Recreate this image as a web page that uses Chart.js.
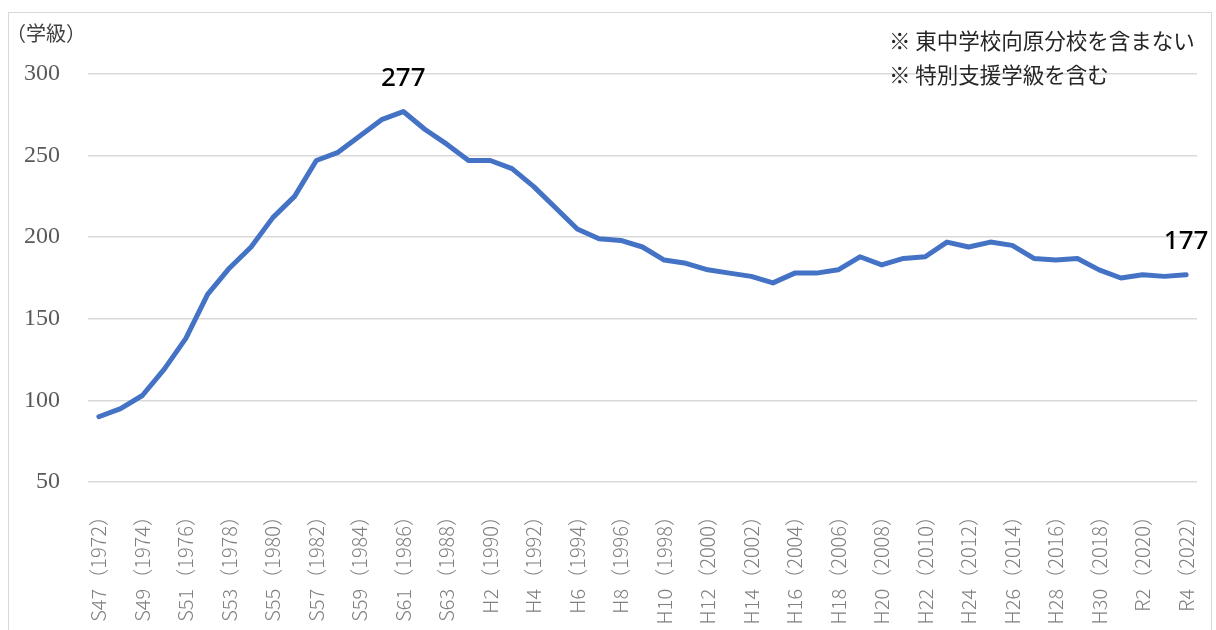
<!DOCTYPE html>
<html>
<head>
<meta charset="utf-8">
<script src="https://cdn.jsdelivr.net/npm/chart.js@4.4.1/dist/chart.umd.min.js"></script>
<style>
  html, body { margin: 0; padding: 0; background: #fff; }
  .wrap { position: relative; width: 1216px; height: 630px; overflow: hidden; }
  .frame { position: absolute; left: 8px; top: 12px; width: 1204px; height: 640px; border: 1px solid #d9d9d9; box-sizing: border-box; }
  canvas { position: absolute; left: 0; top: 0; }
</style>
</head>
<body>
<div class="wrap">
  <div class="frame"></div>
  <canvas id="chart" width="1216" height="630"></canvas>
</div>
<script>
// years and era labels
const years = [1972, 1973, 1974, 1975, 1976, 1977, 1978, 1979, 1980, 1981,
  1982, 1983, 1984, 1985, 1986, 1987, 1988, 1989, 1990, 1991,
  1992, 1993, 1994, 1995, 1996, 1997, 1998, 1999, 2000, 2001,
  2002, 2003, 2004, 2005, 2006, 2007, 2008, 2009, 2010, 2011,
  2012, 2013, 2014, 2015, 2016, 2017, 2018, 2019, 2020, 2021, 2022];
const eras = ['S47', 'S48', 'S49', 'S50', 'S51', 'S52', 'S53', 'S54', 'S55', 'S56',
  'S57', 'S58', 'S59', 'S60', 'S61', 'S62', 'S63', 'H1', 'H2', 'H3',
  'H4', 'H5', 'H6', 'H7', 'H8', 'H9', 'H10', 'H11', 'H12', 'H13',
  'H14', 'H15', 'H16', 'H17', 'H18', 'H19', 'H20', 'H21', 'H22', 'H23',
  'H24', 'H25', 'H26', 'H27', 'H28', 'H29', 'H30', 'R1', 'R2', 'R3', 'R4'];
// number of classes
const classes = [90, 95, 103, 119, 138, 165, 181, 194, 212, 225,
  247, 252, 262, 272, 277, 266, 257, 247, 247, 242,
  231, 218, 205, 199, 198, 194, 186, 184, 180, 178,
  176, 172, 178, 178, 180, 188, 183, 187, 188, 197,
  194, 197, 195, 187, 186, 187, 180, 175, 177, 176, 177];
const labeledPoints = [14, 50];
const yTicks = [50, 100, 150, 200, 250, 300];
const notes = ['※ 東中学校向原分校を含まない', '※ 特別支援学級を含む'];
const unitLabel = '（学級）';

const labels = years.map((y, i) => eras[i] + '（' + y + '）');

const extraText = {
  id: 'extraText',
  afterDatasetsDraw(chart) {
    const ctx = chart.ctx;
    const meta = chart.getDatasetMeta(0);
    ctx.save();
    // value labels
    ctx.fillStyle = '#000';
    ctx.font = '500 26px "Noto Sans", sans-serif';
    ctx.textAlign = 'center';
    ctx.textBaseline = 'middle';
    labeledPoints.forEach(i => {
      const p = meta.data[i];
      ctx.fillText(String(classes[i]), p.x, p.y - 33);
    });
    // unit label
    ctx.fillStyle = '#404040';
    ctx.font = '20px "Noto Sans CJK JP", sans-serif';
    ctx.textAlign = 'left';
    ctx.fillText(unitLabel, 6, 33);
    // notes
    ctx.fillStyle = '#262626';
    ctx.font = '21.5px "Noto Sans CJK JP", sans-serif';
    ctx.fillText(notes[0], 889, 41);
    ctx.fillText(notes[1], 889, 75);
    ctx.restore();
  }
};

new Chart(document.getElementById('chart'), {
  type: 'line',
  data: {
    labels: labels,
    datasets: [{
      data: classes,
      borderColor: '#4472C4',
      borderWidth: 5,
      pointRadius: 0,
      tension: 0,
      borderJoinStyle: 'round',
      borderCapStyle: 'round'
    }]
  },
  plugins: [extraText],
  options: {
    responsive: false,
    animation: false,
    layout: { padding: { top: 74, right: 19, left: 0, bottom: 0 } },
    plugins: { legend: { display: false }, tooltip: { enabled: false } },
    scales: {
      x: {
        offset: true,
        grid: { display: false, drawTicks: false },
        border: { display: false },
        afterFit(scale) {
          scale.height = 148;
          scale.paddingLeft = 0;
          scale.paddingRight = 0;
        },
        ticks: {
          autoSkip: false,
          maxRotation: 90,
          minRotation: 90,
          padding: 24,
          color: '#808080',
          font: { family: '"Noto Sans CJK JP", sans-serif', size: 20, weight: 300 },
          callback: (v, i) => (i % 2 === 0 ? labels[i] : '')
        }
      },
      y: {
        min: 50,
        max: 300,
        afterFit(scale) { scale.width = 88; },
        afterBuildTicks(scale) { scale.ticks = yTicks.map(v => ({ value: v })); },
        grid: { color: '#d9d9d9', lineWidth: 1.5, drawTicks: false },
        border: { display: false },
        ticks: {
          padding: 28,
          color: '#595959',
          font: { family: '"Liberation Serif", "DejaVu Serif", serif', size: 24 }
        }
      }
    }
  }
});
</script>
</body>
</html>
